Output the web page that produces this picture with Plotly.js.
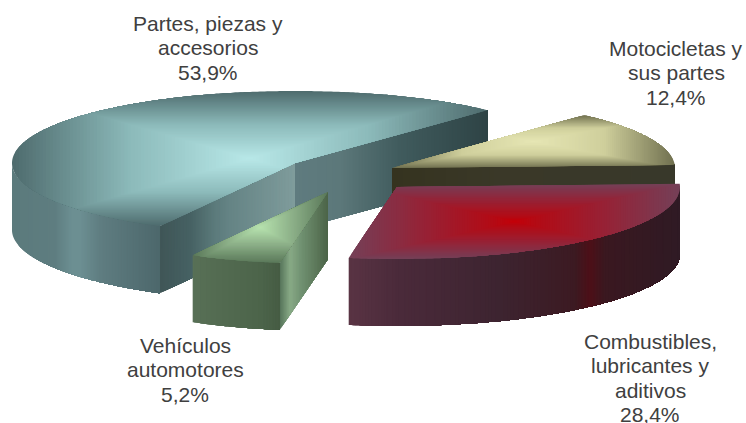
<!DOCTYPE html>
<html><head><meta charset="utf-8">
<script src="https://cdn.plot.ly/plotly-3.0.1.min.js"></script>
<style>html,body{margin:0;padding:0;background:#fff;overflow:hidden}#c{width:746px;height:423px}</style>
</head><body><div id="c"></div>
<script>
// ---- data ----
const categories = ["Partes, piezas y accesorios","Vehículos automotores","Combustibles, lubricantes y aditivos","Motocicletas y sus partes"];
const shares = [53.9, 5.2, 28.4, 12.4];
const labelLines = [["Partes, piezas y","accesorios","53,9%"],["Vehículos","automotores","5,2%"],["Combustibles,","lubricantes y","aditivos","28,4%"],["Motocicletas y","sus partes","12,4%"]];

// ---- geometry / style of the drawing ----
const RX=283, RY=72, DEPTH=67, START=47.2;
const centres=[[295,163],[328,192],[397,187],[392,168]];
const labelPos=[[208,30],[185,352],[650,348],[676,55]];
const LINE=24.6;
const topStops=[
 [[0,'#b8e8e8'],[0.5,'#8cbaba'],[1,'#4e6b6d']],
 [[0,'#b6e2ae'],[0.5,'#8aad86'],[1,'#5a7859']],
 [[0,'#c40008'],[0.12,'#b40a14'],[0.55,'#962236'],[1,'#744058']],
 [[0,'#e6e6b4'],[0.5,'#cfcf9c'],[1,'#70704f']]];
const wallBig=[[12,'#5b7a7c'],[55,'#5e7d80'],[72,'#6c8f92'],[80,'#6c8f92'],[100,'#5f7d81'],[158,'#4d686c']];
const sideBigL=[[158,'#3f5556'],[190,'#466163'],[215,'#5c7b7c'],[230,'#658485'],[295,'#7f9c9c']];
const sideBigR=[[295,'#5f7b7f'],[340,'#5c787a'],[400,'#405b5d'],[488,'#2e4345']];
const wallVeh=[[192,'#587056'],[225,'#526a50'],[262,'#4c644a'],[280,'#465c44']];
const sideVeh=[[280,'#56745a'],[290,'#88aa86'],[302,'#6f9070'],[328,'#4c6448']];
const wallRed=[[347,'#5a3444'],[400,'#4a2a3a'],[500,'#3d2430'],[575,'#3c1a22'],[590,'#4d1018'],[605,'#3a1820'],[681,'#2f1a24']];
const sideMoto=[[392,'#35331f'],[500,'#3a3828'],[675,'#38382a']];

const hex=h=>[1,3,5].map(i=>parseInt(h.substr(i,2),16));
function ramp(stops,v){
  if(v<=stops[0][0])return hex(stops[0][1]);
  for(let i=1;i<stops.length;i++){ if(v<=stops[i][0]){
    const f=(v-stops[i-1][0])/(stops[i][0]-stops[i-1][0]),a=hex(stops[i-1][1]),b=hex(stops[i][1]);
    return a.map((c,k)=>c+(b[k]-c)*f);} }
  return hex(stops[stops.length-1][1]);
}
const css=c=>'rgb('+c.map(v=>Math.round(v)).join(',')+')';
const traces=[];
function addPoly(poly,c){ if(poly.length<3)return;
  const x=poly.map(p=>p[0]),y=poly.map(p=>p[1]); x.push(x[0]);y.push(y[0]);
  traces.push({type:'scatter',mode:'lines',x,y,fill:'toself',fillcolor:c,line:{width:0,color:c,simplify:false},hoverinfo:'skip',showlegend:false}); }
// half-plane clip: keep points where f(p)>=0
function clip(poly,f){ const o=[]; for(let i=0;i<poly.length;i++){const a=poly[i],b=poly[(i+1)%poly.length],fa=f(a),fb=f(b);
    if(fa>=0)o.push(a);
    if((fa>=0)!==(fb>=0)){const s=fa/(fa-fb);o.push([a[0]+(b[0]-a[0])*s,a[1]+(b[1]-a[1])*s]);}}
  return o; }
const pt=(c,a,r=1)=>[c[0]+RX*r*Math.cos(a*Math.PI/180),c[1]-RY*r*Math.sin(a*Math.PI/180)];
function arcPath(c,a0,a1){const n=Math.max(2,Math.ceil(Math.abs(a1-a0)/0.5)),o=[];for(let i=0;i<=n;i++)o.push(pt(c,a0+(a1-a0)*i/n));return o;}

function wall(path,stops){ // painted left to right, each band covers everything to its right
  const poly=[...path,...path.slice().reverse().map(p=>[p[0],p[1]+DEPTH])];
  const xs=path.map(p=>p[0]),x0=Math.min(...xs),x1=Math.max(...xs);
  let last=null;
  for(let x=x0;x<x1;x+=1.5){
    const c=css(ramp(stops,x+0.75)); if(c===last)continue; last=c;
    addPoly(x===x0?poly:clip(poly,p=>p[0]-x),c);
  }
}
function topFace(c,a0,a1,stops){
  // rectangular path gradient centred on the bounding box of the slice, painted outside-in
  const poly=[c,...arcPath(c,a0,a1)];
  const xs=poly.map(p=>p[0]),ys=poly.map(p=>p[1]);
  const x0=Math.min(...xs),x1=Math.max(...xs),y0=Math.min(...ys),y1=Math.max(...ys);
  const cx=(x0+x1)/2,cy=(y0+y1)/2,hw=(x1-x0)/2,hh=(y1-y0)/2;
  let last=null; const N=70;
  for(let i=0;i<N;i++){
    const t=1-i/N, c2=css(ramp(stops,t-0.5/N)); if(c2===last)continue; last=c2;
    let q=poly;
    if(i>0){ q=clip(q,p=>p[0]-(cx-hw*t)); q=clip(q,p=>(cx+hw*t)-p[0]); q=clip(q,p=>p[1]-(cy-hh*t)); q=clip(q,p=>(cy+hh*t)-p[1]); }
    addPoly(q,c2);
  }
}
function radial(c,a){return [pt(c,a,0),pt(c,a,1)];}
// slice angles derived from the shares
const total=shares.reduce((a,b)=>a+b,0);
let acc=START; const ang=shares.map(s=>{const r=[acc,acc+s/total*360];acc=r[1];return r;});

// Partes
wall(radial(centres[0],ang[0][0]),sideBigR);
wall(radial(centres[0],ang[0][1]),sideBigL);
wall(arcPath(centres[0],180,ang[0][1]),wallBig);
topFace(centres[0],ang[0][0],ang[0][1],topStops[0]);
// Motocicletas
wall(radial(centres[3],ang[3][0]),sideMoto);
topFace(centres[3],ang[3][0],ang[3][1],topStops[3]);
// Vehiculos
wall(radial(centres[1],ang[1][1]),sideVeh);
wall(arcPath(centres[1],ang[1][0],ang[1][1]),wallVeh);
topFace(centres[1],ang[1][0],ang[1][1],topStops[1]);
// Combustibles
wall(arcPath(centres[2],ang[2][0],360),wallRed);
topFace(centres[2],ang[2][0],ang[2][1],topStops[2]);

const annotations=[];
labelLines.forEach((lines,i)=>lines.forEach((t,j)=>annotations.push({text:t,x:labelPos[i][0],y:labelPos[i][1]+j*LINE-7,
  xref:'x',yref:'y',xanchor:'center',yanchor:'middle',showarrow:false,font:{family:'"Liberation Sans",Arial,sans-serif',size:21,color:'#404040'}})));

Plotly.newPlot('c',traces,{width:746,height:423,margin:{l:0,r:0,t:0,b:0},paper_bgcolor:'#fff',plot_bgcolor:'#fff',showlegend:false,
  xaxis:{range:[0,746],visible:false,fixedrange:true},yaxis:{range:[423,0],visible:false,fixedrange:true},annotations},{displayModeBar:false,staticPlot:true});
</script></body></html>
